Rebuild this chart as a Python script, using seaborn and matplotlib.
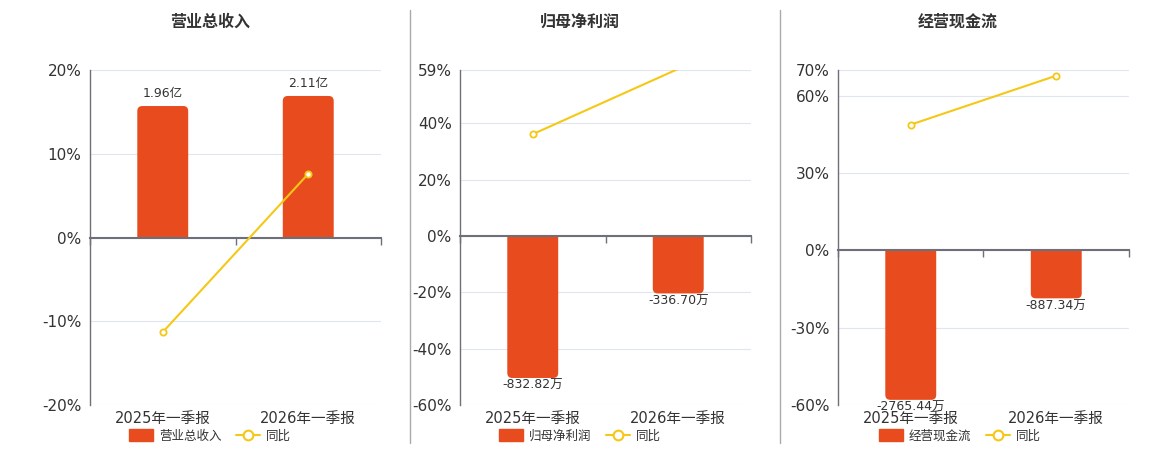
import numpy as np
import pandas as pd
import seaborn as sns
import matplotlib.pyplot as plt
from matplotlib.lines import Line2D
from matplotlib.patches import Patch, FancyBboxPatch, Rectangle

# data
periods = ['2025年一季报', '2026年一季报']

titles = ['营业总收入', '归母净利润', '经营现金流']

revenue = [1.96, 2.11]            # 亿
revenue_labels = ['1.96亿', '2.11亿']
revenue_yoy = [-11.3, 7.6]        # %

profit = [-832.82, -336.70]       # 万
profit_labels = ['-832.82万', '-336.70万']
profit_yoy = [36.2, 59.4]

cashflow = [-2765.44, -887.34]    # 万
cashflow_labels = ['-2765.44万', '-887.34万']
cashflow_yoy = [48.8, 67.8]

pct_ticks = [
    [20, 10, 0, -10, -20],
    [59, 40, 20, 0, -20, -40, -60],
    [70, 60, 30, 0, -30, -60],
]
# bar value that lands on 1% of the percent axis
bar_scale = [2.11 / 16.9, 832.82 / 50.4, 2765.44 / 58.0]

BAR = '#E84C1E'
LINE = '#F5C816'
AXIS = '#6E7079'
GRID = '#E0E6F1'
TEXT = '#333333'

sns.set_theme(style='white')
plt.rcParams['font.family'] = ['DejaVu Sans', 'Noto Sans CJK SC']

fig = plt.figure(figsize=(11.6, 4.5), dpi=100)

panels = [
    (revenue, revenue_labels, revenue_yoy),
    (profit, profit_labels, profit_yoy),
    (cashflow, cashflow_labels, cashflow_yoy),
]
lefts = [90, 460, 838]
legend_x = [210, 580, 960]


def round_bars(ax, radius_px=5):
    # swap each bar for one rounded at the outer end, clipped square at the base
    fig.canvas.draw()
    p0 = ax.transData.transform((0, 0))
    p1 = ax.transData.transform((1, 1))
    px, py = p1[0] - p0[0], p1[1] - p0[1]
    ext = 3 * radius_px / py
    for bar in list(ax.patches):
        x, w, h = bar.get_x(), bar.get_width(), bar.get_height()
        if h >= 0:
            y0, hh = -ext, h + ext
        else:
            y0, hh = h, -h + ext
        rb = FancyBboxPatch((x, y0), w, hh,
                            boxstyle=f'round,pad=0,rounding_size={radius_px / px}',
                            mutation_aspect=px / py, facecolor=BAR,
                            edgecolor='none', zorder=2)
        ax.add_patch(rb)
        clip = Rectangle((x - w, 0), 3 * w, 2 * h, transform=ax.transData)
        rb.set_clip_path(clip)
        bar.set_visible(False)


for i, (vals, labels, yoy) in enumerate(panels):
    ax = fig.add_axes([lefts[i] / 1160, 45 / 450, 291 / 1160, 335 / 450])
    ticks = pct_ticks[i]
    lo, hi = min(ticks), max(ticks)

    df = pd.DataFrame({'period': periods, 'value': vals, 'yoy': yoy})

    # bars on the bottom axes, scaled so zero matches the percent axis
    sns.barplot(data=df, x='period', y='value', color=BAR, width=0.35,
                saturation=1, ax=ax, zorder=2, edgecolor='none')
    ax.set_ylim(lo * bar_scale[i], hi * bar_scale[i])
    ax.set_xlim(-0.5, 1.5)
    ax.set_yticks([t * bar_scale[i] for t in ticks])
    ax.yaxis.grid(True, color=GRID, linewidth=0.8)
    ax.set_axisbelow(True)
    ax.tick_params(axis='y', length=0, labelleft=False)
    ax.set_xlabel('')
    ax.set_ylabel('')

    for spine in ['top', 'right']:
        ax.spines[spine].set_visible(False)
    ax.spines['left'].set_color(AXIS)
    ax.spines['left'].set_linewidth(1)
    ax.spines['bottom'].set_position(('data', 0))
    ax.spines['bottom'].set_color(AXIS)
    ax.spines['bottom'].set_linewidth(1.5)
    ax.spines['bottom'].set_zorder(3)
    ax.set_xticks([-0.5, 0.5, 1.5])
    ax.set_xticklabels([])
    ax.tick_params(axis='x', direction='out', length=5, color=AXIS, width=1,
                   bottom=True)

    for bar, v, lab in zip(ax.patches, vals, labels):
        x = bar.get_x() + bar.get_width() / 2
        if v >= 0:
            ax.annotate(lab, (x, v), xytext=(0, 4), textcoords='offset points',
                        ha='center', va='bottom', fontsize=9, color=TEXT)
        else:
            ax.annotate(lab, (x, v), xytext=(0, -1), textcoords='offset points',
                        ha='center', va='top', fontsize=9, color=TEXT)

    round_bars(ax)

    # category labels along the bottom edge
    sec = ax.secondary_xaxis(0)
    sec.set_xticks([0, 1])
    sec.set_xticklabels(periods)
    sec.tick_params(length=0, labelsize=10.5, labelcolor=TEXT, pad=4)
    sec.spines['bottom'].set_visible(False)

    # growth line on a twin axes drawn on top; markers outside the range hidden
    axl = ax.twinx()
    shown = [k for k, v in enumerate(yoy) if lo <= v <= hi]
    sns.lineplot(x=[0, 1], y=df['yoy'].values, ax=axl, color=LINE,
                 linewidth=1.5, marker='o', markersize=4.5,
                 markerfacecolor='white', markeredgecolor=LINE,
                 markeredgewidth=1.3, markevery=shown)
    axl.set_ylim(lo, hi)
    axl.set_yticks(ticks)
    axl.set_yticklabels([f'{t}%' for t in ticks])
    axl.yaxis.tick_left()
    axl.tick_params(axis='y', length=0, labelsize=11, labelcolor=TEXT, pad=6)
    for spine in axl.spines.values():
        spine.set_visible(False)
    axl.set_ylabel('')
    axl.grid(False)

    fig.text((lefts[i] + 120) / 1160, 1 - 22 / 450, titles[i], ha='center',
             va='center', fontsize=11.5, fontweight='bold', color=TEXT)

    handles = [
        Patch(facecolor=BAR, edgecolor=BAR, label=titles[i]),
        Line2D([0], [0], color=LINE, linewidth=1.5, marker='o', markersize=7,
               markerfacecolor='white', markeredgecolor=LINE,
               markeredgewidth=1.5, label='同比'),
    ]
    fig.legend(handles=handles, loc='center', ncol=2, frameon=False,
               bbox_to_anchor=(legend_x[i] / 1160, 1 - 436 / 450),
               fontsize=9, handlelength=1.9, handleheight=1.1,
               columnspacing=1.2, handletextpad=0.5, labelcolor=TEXT)

# panel separators
for xs in [410, 780]:
    fig.add_artist(Line2D([xs / 1160, xs / 1160], [1 - 10 / 450, 1 - 443 / 450],
                          color='#AAAAAA', linewidth=1))

fig.savefig('out.png', dpi=100, facecolor='white')
